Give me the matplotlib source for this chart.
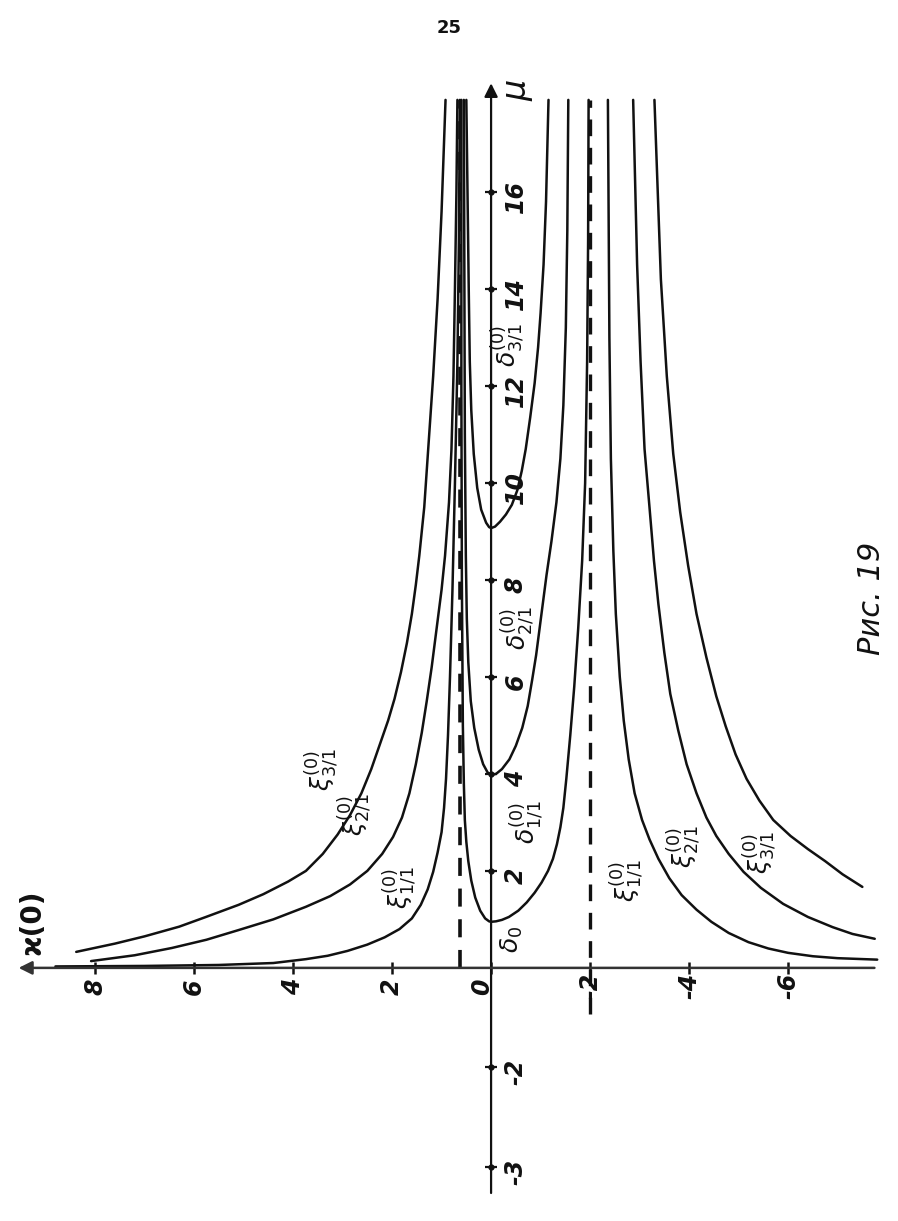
import matplotlib.pyplot as plt

# --- curves: x(0) values and mu values ---
# left xi curves (positive x(0))
xi11_left_x = [8.8, 7.0, 5.5, 4.4, 3.74, 3.3, 2.9, 2.5, 2.15, 1.85, 1.6, 1.42, 1.28, 1.17, 1.08,
               1.0, 0.95, 0.91, 0.87, 0.83, 0.78, 0.73, 0.68, 0.65, 0.63]
xi11_left_mu = [0.03, 0.04, 0.06, 0.1, 0.18, 0.25, 0.35, 0.48, 0.63, 0.8, 1.02, 1.3, 1.62, 1.98, 2.38,
                2.8, 3.3, 3.9, 4.8, 6.0, 7.8, 10.0, 12.5, 15.0, 17.9]
xi21_left_x = [8.08, 7.2, 6.45, 5.75, 5.1, 4.4, 3.74, 3.25, 2.85, 2.5, 2.2, 1.98, 1.8, 1.65, 1.52,
               1.4, 1.3, 1.2, 1.1, 1.0, 0.93, 0.85, 0.8, 0.76, 0.73, 0.7, 0.68]
xi21_left_mu = [0.14, 0.26, 0.41, 0.58, 0.78, 1.0, 1.26, 1.48, 1.72, 2.0, 2.35, 2.7, 3.1, 3.6, 4.2,
                4.85, 5.5, 6.2, 7.0, 7.8, 8.5, 9.6, 10.7, 12.2, 14.0, 16.0, 17.9]
xi31_left_x = [8.38, 7.6, 7.0, 6.3, 5.76, 5.1, 4.6, 4.1, 3.74, 3.4, 3.1, 2.85, 2.62, 2.42, 2.25,
               2.08, 1.95, 1.82, 1.7, 1.6, 1.52, 1.45, 1.35, 1.27, 1.17, 1.08, 1.0, 0.92]
xi31_left_mu = [0.33, 0.5, 0.65, 0.85, 1.05, 1.3, 1.52, 1.78, 2.0, 2.35, 2.75, 3.15, 3.6, 4.1, 4.6,
                5.1, 5.55, 6.1, 6.7, 7.3, 7.9, 8.5, 9.5, 10.7, 12.2, 13.8, 15.6, 17.9]

# right xi curves (negative x(0))
xi11_right_x = [-7.8, -7.0, -6.5, -6.0, -5.6, -5.2, -4.8, -4.45, -4.15, -3.85, -3.6, -3.38, -3.2,
                -3.05, -2.9, -2.78, -2.68, -2.6, -2.52, -2.47, -2.42, -2.39, -2.36]
xi11_right_mu = [0.17, 0.2, 0.24, 0.31, 0.4, 0.53, 0.72, 0.95, 1.2, 1.5, 1.85, 2.25, 2.65,
                 3.05, 3.6, 4.3, 5.1, 6.0, 7.3, 8.6, 10.5, 13.0, 17.9]
xi21_right_x = [-7.75, -7.3, -6.9, -6.4, -5.9, -5.45, -5.1, -4.8, -4.55, -4.35, -4.15, -3.95, -3.78,
                -3.62, -3.5, -3.38, -3.29, -3.2, -3.1, -3.02, -2.95, -2.87]
xi21_right_mu = [0.6, 0.7, 0.84, 1.05, 1.32, 1.65, 1.98, 2.35, 2.72, 3.1, 3.6, 4.2, 4.9,
                 5.65, 6.5, 7.5, 8.4, 9.5, 10.7, 12.5, 14.5, 17.9]
xi31_right_x = [-7.5, -7.1, -6.75, -6.4, -6.05, -5.7, -5.42, -5.16, -4.94, -4.74, -4.55, -4.35,
                -4.15, -3.98, -3.82, -3.68, -3.55, -3.43, -3.3]
xi31_right_mu = [1.67, 1.93, 2.2, 2.45, 2.72, 3.05, 3.45, 3.9, 4.4, 4.98, 5.6, 6.4,
                 7.3, 8.3, 9.4, 10.6, 12.2, 14.2, 17.9]

# delta curves (U shapes with vertex on the mu axis)
d11_x = [0.60, 0.60, 0.59, 0.57, 0.55, 0.53, 0.50, 0.46, 0.40, 0.32, 0.22, 0.12, 0.04, 0.0, -0.10,
         -0.22, -0.36, -0.55, -0.72, -0.88, -1.02, -1.15, -1.25, -1.33, -1.40, -1.46, -1.52, -1.60,
         -1.68, -1.76, -1.84, -1.90, -1.94, -1.96, -1.97]
d11_mu = [17.9, 12.0, 8.0, 5.0, 3.8, 3.05, 2.6, 2.2, 1.8, 1.45, 1.18, 1.02, 0.96, 0.95, 0.96,
          0.99, 1.05, 1.18, 1.35, 1.55, 1.76, 2.0, 2.25, 2.55, 2.9, 3.3, 3.9, 4.8,
          5.8, 7.0, 8.4, 10.0, 12.5, 15.0, 17.9]
d21_x = [0.55, 0.53, 0.51, 0.49, 0.46, 0.41, 0.34, 0.25, 0.16, 0.07, 0.0, -0.10, -0.22, -0.37, -0.50,
         -0.63, -0.74, -0.83, -0.91, -0.98, -1.05, -1.12, -1.22, -1.32, -1.40, -1.46, -1.51, -1.54, -1.56]
d21_mu = [17.9, 11.0, 8.5, 7.2, 6.3, 5.5, 4.95, 4.5, 4.2, 4.03, 3.98, 4.0, 4.1, 4.3, 4.58,
          4.95, 5.4, 5.94, 6.45, 7.0, 7.55, 8.1, 8.8, 9.6, 10.5, 11.6, 13.2, 15.2, 17.9]
d31_x = [0.50, 0.47, 0.45, 0.43, 0.40, 0.35, 0.28, 0.20, 0.10, 0.04, 0.0, -0.08, -0.18, -0.30, -0.42,
         -0.53, -0.62, -0.70, -0.79, -0.88, -0.95, -1.00, -1.06, -1.11, -1.16]
d31_mu = [17.9, 15.5, 13.9, 12.5, 11.5, 10.6, 9.9, 9.45, 9.18, 9.09, 9.07, 9.1, 9.2, 9.35, 9.55,
          9.85, 10.25, 10.7, 11.35, 12.06, 12.8, 13.5, 14.5, 15.8, 17.9]

# dashed asymptotes
dash_left_x = [0.62, 0.62]
dash_left_mu = [0.0, 17.9]
dash_right_x = [-2.0, -2.0]
dash_right_mu = [-0.95, 17.9]

# ticks
x_ticks = [8, 6, 4, 2, 0, -2, -4, -6]
x_tick_labels = ['8', '6', '4', '2', '0', '-2', '-4', '-6']
mu_ticks = [16, 14, 12, 10, 8, 6, 4, 2, -2.05, -4.1]
mu_tick_labels = ['16', '14', '12', '10', '8', '6', '4', '2', '-2', '-3']

# curve labels: text, x(0), mu
curve_labels = [
    (r'$\xi^{(0)}_{3/1}$', 3.41, 4.08),
    (r'$\xi^{(0)}_{2/1}$', 2.75, 3.15),
    (r'$\xi^{(0)}_{1/1}$', 1.84, 1.65),
    (r'$\delta_0$', -0.43, 0.58),
    (r'$\delta^{(0)}_{1/1}$', -0.73, 3.0),
    (r'$\delta^{(0)}_{2/1}$', -0.55, 7.0),
    (r'$\delta^{(0)}_{3/1}$', -0.35, 12.85),
    (r'$\xi^{(0)}_{1/1}$', -2.74, 1.8),
    (r'$\xi^{(0)}_{2/1}$', -3.9, 2.5),
    (r'$\xi^{(0)}_{3/1}$', -5.43, 2.37),
]

plt.rcParams['mathtext.fontset'] = 'dejavusans'
ink = '#111111'

fig = plt.figure(figsize=(8.98, 12.21), dpi=100)
ax = fig.add_axes([0, 0, 1, 1])
ax.set_xlim(9.92, -8.22)
ax.set_ylim(-5.22, 19.96)
ax.axis('off')

# axes with arrows
ax.annotate('', xy=(0, 18.3), xytext=(0, -4.7),
            arrowprops=dict(arrowstyle='-|>', lw=1.6, color=ink, mutation_scale=20))
ax.annotate('', xy=(9.6, 0), xytext=(-7.8, 0),
            arrowprops=dict(arrowstyle='-|>', lw=1.8, color='#333333', mutation_scale=20))

# tick marks
ax.plot(x_ticks, [0] * len(x_ticks), ls='none', marker='|', ms=9, mew=1.8, color=ink)
ax.plot([0] * len(mu_ticks), mu_ticks, ls='none', marker='o', ms=3.5, color=ink)
ax.plot([0] * len(mu_ticks), mu_ticks, ls='none', marker='_', ms=9, mew=1.6, color=ink)

# curves
for xs, ms in [(xi11_left_x, xi11_left_mu), (xi21_left_x, xi21_left_mu), (xi31_left_x, xi31_left_mu),
               (xi11_right_x, xi11_right_mu), (xi21_right_x, xi21_right_mu), (xi31_right_x, xi31_right_mu),
               (d11_x, d11_mu), (d21_x, d21_mu), (d31_x, d31_mu)]:
    ax.plot(xs, ms, color=ink, lw=1.8, solid_joinstyle='round', solid_capstyle='round')

ax.plot(dash_left_x, dash_left_mu, color=ink, lw=2.6, ls=(0, (5, 3.5)))
ax.plot(dash_right_x, dash_right_mu, color=ink, lw=2.4, ls=(0, (5, 3.5)))

# tick labels
for v, t in zip(x_ticks, x_tick_labels):
    xv = v + 0.18 if v == 0 else v
    ax.text(xv, -0.38, t, rotation=90, ha='center', va='center', fontsize=17,
            style='italic', weight='bold', color=ink)
for v, t in zip(mu_ticks, mu_tick_labels):
    ax.text(-0.5, v - 0.1, t, rotation=90, ha='center', va='center', fontsize=17,
            style='italic', weight='bold', color=ink)

for t, xv, mv in curve_labels:
    ax.text(xv, mv, t, rotation=90, ha='center', va='center', fontsize=18, color=ink)

# axis names and captions
ax.text(-0.55, 18.1, r'$\mu$', rotation=90, ha='center', va='center', fontsize=24, color=ink)
ax.text(9.27, 0.95, 'ϰ(0)', rotation=90, ha='center', va='center', fontsize=20,
        weight='bold', color=ink)
ax.text(-7.69, 7.63, 'Рис. 19', rotation=90, ha='center', va='center', fontsize=22,
        style='italic', color=ink)
ax.text(0.85, 19.38, '25', ha='center', va='center', fontsize=13, weight='bold', color=ink)

fig.savefig('out.png', dpi=100)
